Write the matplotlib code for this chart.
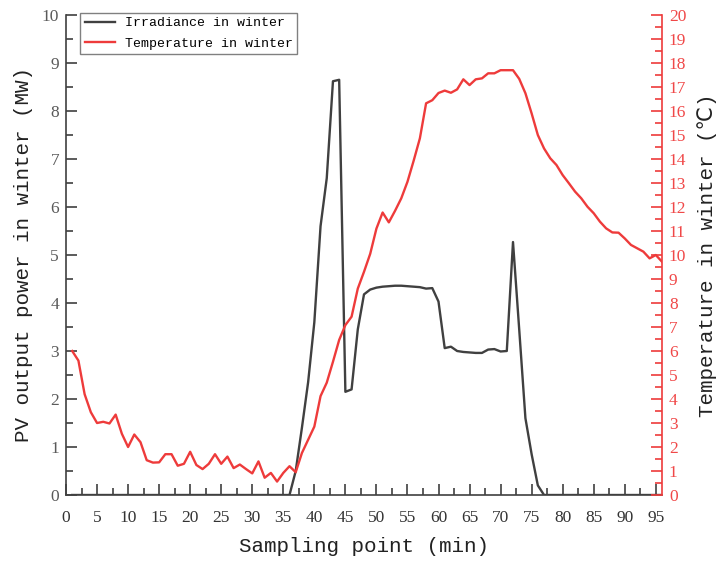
import numpy as np
import matplotlib
matplotlib.use("Agg")
import matplotlib.pyplot as plt
from matplotlib.ticker import MultipleLocator

# sampling points 1..96
points = list(range(1, 97))

# PV output / irradiance in winter (MW), left axis
irradiance = [0] * 36 + [
    0.5, 1.4, 2.35, 3.6, 5.6, 6.6, 8.62, 8.65, 2.15, 2.2,        # 37-46
    3.45, 4.18, 4.28, 4.32, 4.34, 4.35, 4.36, 4.36, 4.35, 4.34,  # 47-56
    4.33, 4.3, 4.31, 4.03, 3.06, 3.09, 3.0, 2.98, 2.97, 2.96,    # 57-66
    2.96, 3.03, 3.04, 2.99, 3.0, 5.27, 3.45, 1.6, 0.85, 0.2,     # 67-76
] + [0] * 20

# temperature in winter (deg C), right axis
temperature = [
    6.0, 5.6, 4.2, 3.45, 3.0, 3.05, 2.98, 3.35, 2.55, 2.0,          # 1-10
    2.52, 2.2, 1.45, 1.35, 1.36, 1.7, 1.7, 1.22, 1.3, 1.8,          # 11-20
    1.25, 1.08, 1.3, 1.7, 1.3, 1.6, 1.12, 1.27, 1.08, 0.9,          # 21-30
    1.4, 0.72, 0.92, 0.56, 0.92, 1.2, 0.95, 1.75, 2.3, 2.85,        # 31-40
    4.12, 4.68, 5.55, 6.46, 7.08, 7.43, 8.6, 9.3, 10.05, 11.1,      # 41-50
    11.77, 11.36, 11.84, 12.36, 13.05, 13.93, 14.86, 16.32, 16.45, 16.75,  # 51-60
    16.85, 16.76, 16.9, 17.32, 17.08, 17.32, 17.36, 17.57, 17.57, 17.7,    # 61-70
    17.7, 17.7, 17.34, 16.74, 15.9, 15.0, 14.44, 14.03, 13.75, 13.33,      # 71-80
    12.99, 12.64, 12.36, 12.01, 11.74, 11.39, 11.11, 10.94, 10.93, 10.69,  # 81-90
    10.42, 10.28, 10.14, 9.86, 10.0, 9.72,                                  # 91-96
]

dark = "#404040"
red = "#ee3b3b"
mono = "Liberation Mono"
serif = "Liberation Serif"

fig = plt.figure(figsize=(7.2, 5.63), dpi=100)
ax = fig.add_axes([66 / 720, 68 / 563, 596 / 720, 480 / 563])
ax2 = ax.twinx()

l1, = ax.plot(points, irradiance, color=dark, lw=1.7, label="Irradiance in winter")
l2, = ax2.plot(points, temperature, color=red, lw=1.7, label="Temperature in winter")

ax.set_xlim(0, 96)
ax.set_ylim(0, 10)
ax2.set_ylim(0, 20)

ax.xaxis.set_major_locator(MultipleLocator(5))
ax.xaxis.set_minor_locator(MultipleLocator(2.5))
ax.yaxis.set_major_locator(MultipleLocator(1))
ax.yaxis.set_minor_locator(MultipleLocator(0.5))
ax2.yaxis.set_major_locator(MultipleLocator(1))
ax2.yaxis.set_minor_locator(MultipleLocator(0.5))

for a in (ax, ax2):
    a.spines["top"].set_visible(False)
ax2.spines["left"].set_visible(False)
ax2.spines["bottom"].set_visible(False)
ax.spines["right"].set_visible(False)
ax.spines["left"].set_color(dark)
ax.spines["bottom"].set_color(dark)
ax2.spines["right"].set_color(red)
for s in ("left", "bottom"):
    ax.spines[s].set_linewidth(1.2)
ax2.spines["right"].set_linewidth(1.2)

ax.tick_params(axis="x", which="major", direction="in", length=8, width=1.2,
               color=dark, pad=11, labelsize=12.5, labelcolor="#333333")
ax.tick_params(axis="x", which="minor", direction="in", length=5, width=1.2, color=dark)
ax.tick_params(axis="y", which="major", direction="in", length=8, width=1.2,
               color=dark, pad=5, labelsize=12.5, labelcolor="#5a5a5a")
ax.tick_params(axis="y", which="minor", direction="in", length=5, width=1.2, color=dark)
ax2.tick_params(axis="y", which="major", direction="in", length=8, width=1.2,
                color=red, pad=5, labelsize=12.5, labelcolor="#f04848")
ax2.tick_params(axis="y", which="minor", direction="in", length=5, width=1.2, color=red)

for lab in ax.get_xticklabels() + ax.get_yticklabels() + ax2.get_yticklabels():
    lab.set_fontfamily(serif)

ax.set_xlabel("Sampling point (min)", family=mono, fontsize=15, color="#222222", labelpad=8)
ax.set_ylabel("PV output power in winter (MW)", family=mono, fontsize=15,
              color="#222222", labelpad=6)
ax2.set_ylabel("Temperature in winter (℃)", family=[mono, "DejaVu Sans"], fontsize=15,
               color="#222222", labelpad=8, rotation=90)

leg = ax2.legend(handles=[l1, l2], loc="upper left", bbox_to_anchor=(0.024, 1.005),
                 borderaxespad=0, borderpad=0.35, handlelength=2.3, handletextpad=0.7,
                 labelspacing=0.6, fancybox=False, framealpha=1,
                 prop={"family": mono, "size": 9.5})
leg.get_frame().set_edgecolor("#808080")
leg.get_frame().set_linewidth(1.0)

fig.savefig("out.png", dpi=100)
